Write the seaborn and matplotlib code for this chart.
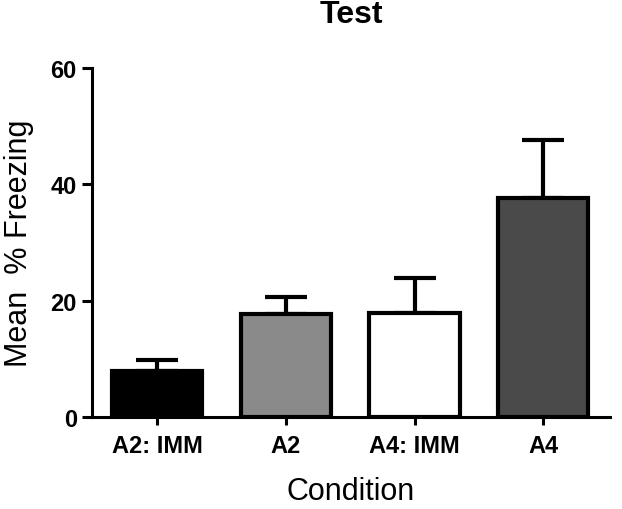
import matplotlib
matplotlib.use("Agg")
import matplotlib.pyplot as plt
import seaborn as sns
import numpy as np

# data
conditions = ["A2: IMM", "A2", "A4: IMM", "A4"]
mean_freezing = [7.9, 17.7, 17.9, 37.6]
sem_freezing = [1.9, 2.9, 6.0, 10.0]
bar_colors = ["#000000", "#8a8a8a", "#ffffff", "#4a4a4a"]

sns.set_style("ticks", {"axes.edgecolor": "black", "text.color": "black",
                        "xtick.color": "black", "ytick.color": "black",
                        "axes.labelcolor": "black"})
plt.rcParams['font.family'] = ['Liberation Sans', 'DejaVu Sans']

fig = plt.figure(figsize=(6.22, 5.10), dpi=100)
ax = fig.add_axes([0.148, 0.1804, 0.833, 0.6843])

sns.barplot(x=conditions, y=mean_freezing, hue=conditions, palette=bar_colors,
            edgecolor="black", linewidth=3, width=0.7, errorbar=None,
            legend=False, ax=ax, zorder=3)

# one-sided (upper) error bars
ax.errorbar(np.arange(len(conditions)), mean_freezing,
            yerr=[np.zeros(len(conditions)), sem_freezing],
            fmt="none", ecolor="black", elinewidth=3, capsize=15, capthick=3, zorder=2)

ax.set_xlim(-0.505, 3.52)
ax.set_ylim(0, 60)
ax.set_yticks([0, 20, 40, 60])

sns.despine(ax=ax)
for side in ["left", "bottom"]:
    ax.spines[side].set_linewidth(2.2)
ax.tick_params(axis="y", length=7, width=2.2, labelsize=17, pad=4)
ax.tick_params(axis="x", length=6, width=2.2, labelsize=17, pad=6)
for lbl in ax.get_xticklabels() + ax.get_yticklabels():
    lbl.set_fontweight("bold")

ax.set_xlabel("Condition", fontsize=22, labelpad=14)
ax.set_ylabel("Mean  % Freezing", fontsize=22, labelpad=12)
ax.set_title("Test", fontsize=23, fontweight="bold", pad=33)

fig.savefig("out.png", dpi=100)
